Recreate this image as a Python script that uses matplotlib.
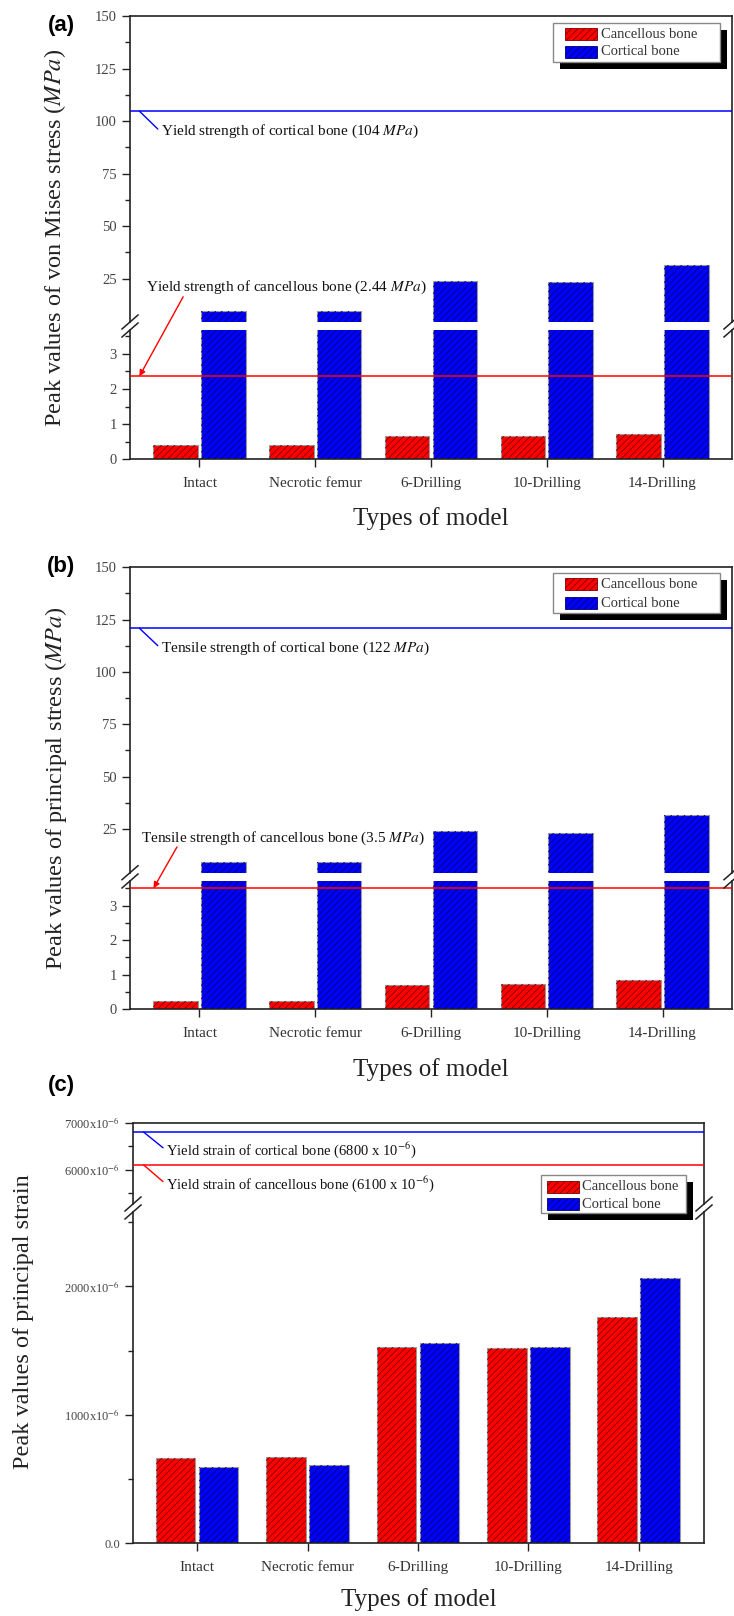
import numpy as np
import matplotlib
matplotlib.use('Agg')
import matplotlib.pyplot as plt
from matplotlib.patches import Rectangle
from matplotlib.lines import Line2D
from matplotlib.ticker import FixedLocator, FuncFormatter

plt.rcParams['font.family'] = 'Liberation Serif'
plt.rcParams['mathtext.fontset'] = 'stix'
plt.rcParams['hatch.linewidth'] = 0.6

# ------------------------------------------------------------------
# data
# ------------------------------------------------------------------
models = ['Intact', 'Necrotic femur', '6-Drilling', '10-Drilling', '14-Drilling']
series_names = ['Cancellous bone', 'Cortical bone']

vm_cancellous = [0.41, 0.41, 0.65, 0.66, 0.72]          # MPa
vm_cortical = [9.4, 9.6, 23.7, 23.3, 31.3]              # MPa
vm_cortical_yield = 104.7
vm_cancellous_yield = 2.36

ps_cancellous = [0.25, 0.25, 0.70, 0.72, 0.85]          # MPa
ps_cortical = [9.0, 9.3, 23.9, 23.2, 31.7]              # MPa
ps_cortical_tensile = 120.9
ps_cancellous_tensile = 3.5

strain_cancellous = [663, 674, 1525, 1522, 1763]        # x10^-6
strain_cortical = [596, 607, 1561, 1530, 2062]          # x10^-6
strain_cortical_yield = 6800
strain_cancellous_yield = 6100

RED, RED_H = '#ff0000', '#7a0000'
BLUE, BLUE_H = '#0000ff', '#000070'
HATCH = '/////'

W, H = 734, 1616
fig = plt.figure(figsize=(W / 100, H / 100), dpi=100)


def fx(px):
    return px / W


def fy(py):
    return 1 - py / H


def px_axes(l, t, r, b):
    return fig.add_axes([l / W, 1 - b / H, (r - l) / W, (b - t) / H])


def style_axes(ax, is_top, labelsize=10.5):
    for s in ax.spines.values():
        s.set_linewidth(1.2)
        s.set_color('#222222')
    if is_top:
        ax.spines['bottom'].set_visible(False)
        ax.tick_params(axis='x', bottom=False, labelbottom=False)
    else:
        ax.spines['top'].set_visible(False)
    ax.tick_params(axis='both', which='major', direction='out', length=6, width=1,
                   labelsize=labelsize, labelcolor='#444444', color='#222222',
                   right=False, top=False)
    ax.tick_params(axis='both', which='minor', direction='out', length=3.5, width=1,
                   color='#222222', right=False, top=False)
    ax.tick_params(axis='x', which='minor', bottom=False)


def draw_bars(ax, canc, cort, width, off):
    x = np.arange(len(models))
    for vals, dx, fc, hc in [(canc, -off, RED, RED_H), (cort, off, BLUE, BLUE_H)]:
        ax.bar(x + dx, vals, width, color=fc, edgecolor='#9a9a9a', linewidth=0.8, zorder=2)
        ax.bar(x + dx, vals, width, color='none', edgecolor=hc, hatch=HATCH,
               linewidth=0, zorder=3)


def break_marks(xs, ub, lt):
    for x in xs:
        for y in (ub, lt):
            fig.add_artist(Line2D([fx(x - 8), fx(x + 8)], [fy(y + 7), fy(y - 7)],
                                  transform=fig.transFigure, color='#222222', lw=1.1))


def origin_legend(box, patch_x, text_x, rows):
    # Origin-style legend: grey frame, hard black drop shadow
    x0, y0, x1, y1 = box
    fig.add_artist(Rectangle((fx(x0 + 7), fy(y1 + 7)), (x1 - x0) / W, (y1 - y0) / H,
                             transform=fig.transFigure, facecolor='black',
                             edgecolor='none', zorder=20))
    fig.add_artist(Rectangle((fx(x0), fy(y1)), (x1 - x0) / W, (y1 - y0) / H,
                             transform=fig.transFigure, facecolor='white',
                             edgecolor='#888888', lw=1.0, zorder=21))
    for name, ry, fc, hc in zip(series_names, rows, [RED, BLUE], [RED_H, BLUE_H]):
        fig.add_artist(Rectangle((fx(patch_x), fy(ry + 6)), 32 / W, 12 / H,
                                 transform=fig.transFigure, facecolor=fc, edgecolor=hc,
                                 hatch=HATCH, lw=0.6, zorder=22))
        fig.text(fx(text_x), fy(ry), name, fontsize=10.5, color='#333333',
                 ha='left', va='center', zorder=23)


def panel(geom, xlim, ylim_hi, ylim_lo, canc, cort, width, off):
    left, right, top, ub, lt, bottom = geom
    ax_hi = px_axes(left, top, right, ub)
    ax_lo = px_axes(left, lt, right, bottom)
    for ax, yl in [(ax_hi, ylim_hi), (ax_lo, ylim_lo)]:
        draw_bars(ax, canc, cort, width, off)
        ax.set_xlim(*xlim)
        ax.set_ylim(*yl)
    style_axes(ax_hi, True)
    style_axes(ax_lo, False)
    ax_lo.set_xticks(np.arange(len(models)))
    ax_lo.set_xticklabels(models, fontsize=11, color='#333333')
    ax_lo.tick_params(axis='x', pad=7)
    break_marks([left, right], ub, lt)
    return ax_hi, ax_lo


# ------------------------------------------------------------------
# panel (a) - von Mises stress
# ------------------------------------------------------------------
geom_a = (130, 732, 16, 322, 330, 459.3)
a_hi, a_lo = panel(geom_a, (-0.6, 4.6), (4.3, 150), (0, 3.68),
                   vm_cancellous, vm_cortical, 0.385, 0.207)
# ------------------------------------------------------------------
# panel (b) - principal stress
# ------------------------------------------------------------------
geom_b = (130, 732, 567.3, 872.7, 881, 1009.3)
b_hi, b_lo = panel(geom_b, (-0.6, 4.6), (4.1, 150), (0, 3.71),
                   ps_cancellous, ps_cortical, 0.385, 0.207)
# ------------------------------------------------------------------
# panel (c) - principal strain
# ------------------------------------------------------------------
geom_c = (133, 704, 1122.7, 1204, 1212, 1543.3)
c_hi, c_lo = panel(geom_c, (-0.58, 4.59), (5267, 7000), (0, 2578),
                   strain_cancellous, strain_cortical, 0.36, 0.195)

for ax in (a_hi, b_hi):
    ax.yaxis.set_major_locator(FixedLocator([25, 50, 75, 100, 125, 150]))
    ax.yaxis.set_minor_locator(FixedLocator([37.5, 62.5, 87.5, 112.5, 137.5]))
    ax.yaxis.set_major_formatter(FuncFormatter(lambda v, p: '%d' % v))
for ax in (a_lo, b_lo):
    ax.yaxis.set_major_locator(FixedLocator([0, 1, 2, 3]))
    ax.yaxis.set_minor_locator(FixedLocator([0.5, 1.5, 2.5, 3.5]))
    ax.yaxis.set_major_formatter(FuncFormatter(lambda v, p: '%d' % v))


def strain_fmt(v, p):
    return '0.0' if v == 0 else '%dx10$^{-6}$' % v


c_hi.yaxis.set_major_locator(FixedLocator([6000, 7000]))
c_hi.yaxis.set_minor_locator(FixedLocator([5500, 6500]))
c_lo.yaxis.set_major_locator(FixedLocator([0, 1000, 2000]))
c_lo.yaxis.set_minor_locator(FixedLocator([500, 1500, 2500]))
for ax in (c_hi, c_lo):
    ax.yaxis.set_major_formatter(FuncFormatter(strain_fmt))
    ax.tick_params(axis='y', labelsize=9)

# ------------------------------------------------------------------
# reference lines and their notes
# ------------------------------------------------------------------
TXT = dict(fontsize=11, color='#111111', ha='left', va='center')
TXT_C = dict(TXT, fontsize=10.5)

a_hi.axhline(vm_cortical_yield, color='blue', lw=1.1, zorder=4)
a_hi.annotate('Yield strength of cortical bone (104 $MPa$)', xy=(-0.519, vm_cortical_yield),
              xytext=(-0.336, 94.9), **TXT,
              arrowprops=dict(arrowstyle='-', color='blue', lw=1, shrinkA=0, shrinkB=0,
                              relpos=(0, 0.5)))
a_lo.axhline(vm_cancellous_yield, color='red', lw=1.1, zorder=4)
a_hi.text(-0.466, 20.95, 'Yield strength of cancellous bone (2.44 $MPa$)', **TXT)
a_lo.annotate('', xy=(-0.519, vm_cancellous_yield), xytext=(-0.141, 16.3),
              textcoords=a_hi.transData, annotation_clip=False,
              arrowprops=dict(arrowstyle='-|>', color='red', lw=1, mutation_scale=9,
                              shrinkA=0, shrinkB=0))

b_hi.axhline(ps_cortical_tensile, color='blue', lw=1.1, zorder=4)
b_hi.annotate('Tensile strength of cortical bone (122 $MPa$)', xy=(-0.519, ps_cortical_tensile),
              xytext=(-0.336, 111.3), **TXT,
              arrowprops=dict(arrowstyle='-', color='blue', lw=1, shrinkA=0, shrinkB=0,
                              relpos=(0, 0.5)))
b_lo.axhline(ps_cancellous_tensile, color='red', lw=1.1, zorder=4)
b_hi.text(-0.506, 20.4, 'Tensile strength of cancellous bone (3.5 $MPa$)', **TXT)
b_lo.annotate('', xy=(-0.397, ps_cancellous_tensile), xytext=(-0.194, 16.4),
              textcoords=b_hi.transData, annotation_clip=False,
              arrowprops=dict(arrowstyle='-|>', color='red', lw=1, mutation_scale=9,
                              shrinkA=0, shrinkB=0))

c_hi.axhline(strain_cortical_yield, color='blue', lw=1.1, zorder=4)
c_hi.annotate('Yield strain of cortical bone (6800 x 10$^{-6}$)', xy=(-0.484, strain_cortical_yield),
              xytext=(-0.283, 6418), **TXT_C,
              arrowprops=dict(arrowstyle='-', color='blue', lw=1, shrinkA=0, shrinkB=0,
                              relpos=(0, 0.5)))
c_hi.axhline(strain_cancellous_yield, color='red', lw=1.1, zorder=4)
c_hi.annotate('Yield strain of cancellous bone (6100 x 10$^{-6}$)', xy=(-0.484, strain_cancellous_yield),
              xytext=(-0.283, 5693), **TXT_C,
              arrowprops=dict(arrowstyle='-', color='red', lw=1, shrinkA=0, shrinkB=0,
                              relpos=(0, 0.5)))

# ------------------------------------------------------------------
# labels
# ------------------------------------------------------------------
LAB = dict(fontsize=17.5, color='#222222', ha='center', va='center')
fig.text(fx(55), fy(237.5), 'Peak values of von Mises stress ($MPa$)', rotation=90, **LAB)
fig.text(fx(56), fy(788), 'Peak values of principal stress ($MPa$)', rotation=90, **LAB)
fig.text(fx(24), fy(1322), 'Peak values of principal strain', rotation=90, **LAB)

for cx, cy in [(431, 519), (431, 1070), (418.5, 1600)]:
    fig.text(fx(cx), fy(cy), 'Types of model', fontsize=18, color='#222222',
             ha='center', va='center')

for lab, cy in [('(a)', 25), ('(b)', 567), ('(c)', 1085)]:
    fig.text(fx(61), fy(cy), lab, fontsize=16, fontweight='bold',
             family='Liberation Sans', ha='center', va='center')

# ------------------------------------------------------------------
# legends
# ------------------------------------------------------------------
origin_legend((553, 23, 720, 62), 565, 601, (34, 51.7))
origin_legend((553, 573.3, 720, 612.7), 565, 601, (584.3, 603.3))
origin_legend((541, 1175, 686, 1213), 547, 581.5, (1186.7, 1204))

fig.savefig('out.png', dpi=100, facecolor='white')
